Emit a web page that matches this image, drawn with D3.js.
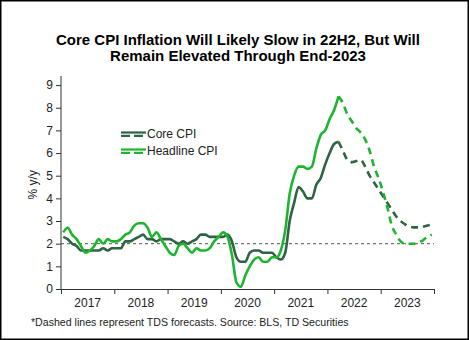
<!DOCTYPE html>
<html>
<head>
<meta charset="utf-8">
<script src="https://cdn.jsdelivr.net/npm/d3@7"></script>
<style>
  body { margin: 0; background: #fff; }
  svg { display: block; font-family: "Liberation Sans", Arial, sans-serif; }
</style>
</head>
<body>
<div id="chart"></div>
<script>
// months since Jan 2017, actuals run Jan 2017 - Mar 2022
let years = ["2017", "2018", "2019", "2020", "2021", "2022", "2023"];
let coreActual = [
  2.3, 2.2, 2.0, 1.9, 1.7, 1.7, 1.7, 1.7, 1.7, 1.8, 1.7, 1.8,
  1.8, 1.8, 2.1, 2.1, 2.2, 2.3, 2.4, 2.2, 2.2, 2.1, 2.2, 2.2,
  2.2, 2.1, 2.0, 2.1, 2.0, 2.1, 2.2, 2.4, 2.4, 2.3, 2.3, 2.3,
  2.3, 2.4, 2.1, 1.4, 1.2, 1.2, 1.6, 1.7, 1.7, 1.6, 1.6, 1.6,
  1.4, 1.3, 1.6, 3.0, 3.8, 4.5, 4.3, 4.0, 4.0, 4.6, 4.9, 5.5,
  6.0, 6.4, 6.5
];
let headlineActual = [
  2.5, 2.7, 2.4, 2.2, 1.9, 1.6, 1.7, 1.9, 2.2, 2.0, 2.2, 2.1,
  2.1, 2.2, 2.4, 2.5, 2.8, 2.9, 2.9, 2.7, 2.3, 2.5, 2.2, 1.9,
  1.6, 1.5, 1.9, 2.0, 1.8, 1.6, 1.8, 1.7, 1.7, 1.8, 2.1, 2.3,
  2.5, 2.3, 1.5, 0.3, 0.1, 0.6, 1.0, 1.3, 1.4, 1.2, 1.2, 1.4,
  1.4, 1.7, 2.6, 4.2, 5.0, 5.4, 5.4, 5.3, 5.4, 6.2, 6.8, 7.0,
  7.5, 7.9, 8.5
];
// TDS forecasts, Mar 2022 - Dec 2023
let forecastStart = 62;
let coreForecast = [
  6.5, 6.1, 5.7, 5.6, 5.65, 5.7, 5.4, 5.0, 4.7, 4.4,
  4.1, 3.8, 3.5, 3.2, 3.0, 2.85, 2.75, 2.72, 2.72, 2.75, 2.8, 2.85
];
let headlineForecast = [
  8.5, 8.2, 7.7, 7.4, 7.1, 6.9, 6.6, 6.1, 5.4, 4.9,
  4.3, 3.6, 2.8, 2.4, 2.1, 2.0, 2.0, 2.0, 2.05, 2.15, 2.3, 2.4
];
let yTicks = [0, 1, 2, 3, 4, 5, 6, 7, 8, 9];
let target = 2;

let coreColor = "#2E6344", headColor = "#1DB530";

let W = 469, H = 340;
let svg = d3.select("#chart").append("svg")
    .attr("width", W).attr("height", H);

svg.append("rect")
    .attr("x", 0.75).attr("y", 0.75)
    .attr("width", W - 1.5).attr("height", H - 1.5)
    .attr("fill", "#fff").attr("stroke", "#000").attr("stroke-width", 1.5);

let title = svg.append("text")
    .attr("text-anchor", "middle")
    .attr("font-weight", "bold")
    .attr("font-size", "15px")
    .attr("fill", "#000");
title.append("tspan").attr("x", 238).attr("y", 45)
    .text("Core CPI Inflation Will Likely Slow in 22H2, But Will");
title.append("tspan").attr("x", 238).attr("y", 61)
    .text("Remain Elevated Through End-2023");

let x = d3.scaleLinear().domain([0, years.length * 12]).range([61, 434]);
let y = d3.scaleLinear().domain([0, 9.4]).range([289, 76]);

// y axis
let yAxis = svg.append("g")
    .attr("transform", "translate(61,0)")
    .call(d3.axisLeft(y).tickValues(yTicks).tickSize(5).tickPadding(3).tickFormat(d3.format("d")));
yAxis.select(".domain").attr("d", "M0," + y(9.4) + "V" + y(0));
yAxis.selectAll("text").attr("font-size", "12px").attr("fill", "#222").attr("font-family", "Liberation Sans, Arial, sans-serif");
yAxis.selectAll("line, path").attr("stroke", "#333");

svg.append("text")
    .attr("transform", "translate(37," + y(4.6) + ") rotate(-90)")
    .attr("text-anchor", "middle")
    .attr("font-size", "12px")
    .attr("fill", "#222")
    .text("% y/y");

// x axis
let xAxis = svg.append("g")
    .attr("transform", "translate(0," + y(0) + ")")
    .call(d3.axisBottom(x).tickValues(d3.range(0, years.length * 12 + 1, 12)).tickSize(5).tickFormat(""));
xAxis.selectAll("line, path").attr("stroke", "#333");

svg.selectAll(".yearLabel")
    .data(years)
    .enter().append("text")
    .attr("class", "yearLabel")
    .attr("x", function(d, i) { return x(i * 12 + 6); })
    .attr("y", 307)
    .attr("text-anchor", "middle")
    .attr("font-size", "12px")
    .attr("fill", "#222")
    .text(function(d) { return d; });

// 2% reference line
svg.append("line")
    .attr("x1", x(0)).attr("x2", x(years.length * 12))
    .attr("y1", y(target)).attr("y2", y(target))
    .attr("stroke", "#555").attr("stroke-width", 1)
    .attr("stroke-dasharray", "3,3");

let line = d3.line()
    .x(function(d) { return x(d[0] + 0.5); })
    .y(function(d) { return y(d[1]); })
    .curve(d3.curveMonotoneX);

function pairs(arr, start) {
    return arr.map(function(v, i) { return [start + i, v]; });
}

svg.append("path").datum(pairs(coreActual, 0))
    .attr("d", line).attr("fill", "none")
    .attr("stroke", coreColor).attr("stroke-width", 2.6);
svg.append("path").datum(pairs(headlineActual, 0))
    .attr("d", line).attr("fill", "none")
    .attr("stroke", headColor).attr("stroke-width", 2.6);
svg.append("path").datum(pairs(coreForecast, forecastStart))
    .attr("d", line).attr("fill", "none")
    .attr("stroke", coreColor).attr("stroke-width", 2.6)
    .attr("stroke-dasharray", "7,5");
svg.append("path").datum(pairs(headlineForecast, forecastStart))
    .attr("d", line).attr("fill", "none")
    .attr("stroke", headColor).attr("stroke-width", 2.6)
    .attr("stroke-dasharray", "7,5");

// legend
let legendItems = [
    { name: "Core CPI", color: coreColor, y: 134 },
    { name: "Headline CPI", color: headColor, y: 151 }
];
let legend = svg.selectAll(".legend")
    .data(legendItems)
    .enter().append("g")
    .attr("class", "legend");
legend.append("line")
    .attr("x1", 121).attr("x2", 146)
    .attr("y1", function(d) { return d.y - 1.5; })
    .attr("y2", function(d) { return d.y - 1.5; })
    .attr("stroke", function(d) { return d.color; })
    .attr("stroke-width", 2.2);
legend.append("line")
    .attr("x1", 121).attr("x2", 146)
    .attr("y1", function(d) { return d.y + 1.8; })
    .attr("y2", function(d) { return d.y + 1.8; })
    .attr("stroke", function(d) { return d.color; })
    .attr("stroke-width", 2.2)
    .attr("stroke-dasharray", "9,4");
legend.append("text")
    .attr("x", 147)
    .attr("y", function(d) { return d.y + 4; })
    .attr("font-size", "12px")
    .attr("fill", "#222")
    .text(function(d) { return d.name; });

svg.append("text")
    .attr("x", 31).attr("y", 326)
    .attr("font-size", "10.6px")
    .attr("fill", "#222")
    .text("*Dashed lines represent TDS forecasts. Source: BLS, TD Securities");
</script>
</body>
</html>
